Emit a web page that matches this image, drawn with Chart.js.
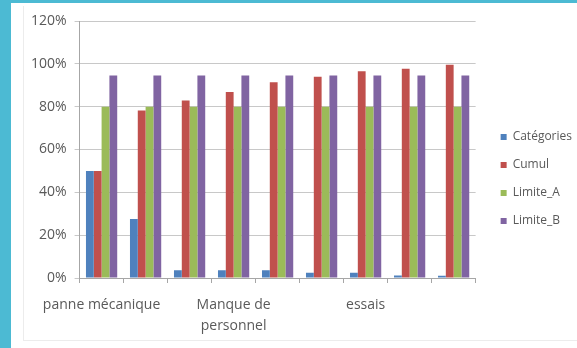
<!DOCTYPE html>
<html>
<head>
<meta charset="utf-8">
<script src="https://cdn.jsdelivr.net/npm/chart.js@4"></script>
<style>
  body { margin: 0; width: 577px; height: 348px; overflow: hidden; background: #fff; position: relative; }
  #teal-left { position: absolute; left: 0; top: 0; width: 11px; height: 348px; background: #4cbad3; }
  #teal-top { position: absolute; left: 0; top: 0; width: 577px; height: 3px; background: #4cbad3; }
  #frame { position: absolute; left: 23px; top: 6px; width: 600px; height: 334px; border-left: 1px solid #ececec; border-bottom: 1px solid #ececec; }
  #chart { position: absolute; left: 12px; top: 4px; }
</style>
</head>
<body>
<div id="frame"></div>
<div id="teal-top"></div>
<div id="teal-left"></div>
<canvas id="chart" width="561" height="345"></canvas>
<script>
// data (percent)
const categories = ["panne mécanique", "", "", ["Manque de", "personnel"], "", "", "essais", "", ""];
const categoriesPct = [50, 27.6, 3.6, 3.6, 3.6, 2.5, 2.5, 1.2, 1.0];
const cumul = [50, 78.2, 82.9, 86.8, 91.4, 94.0, 96.5, 97.7, 99.6];
const limiteA = [80, 80, 80, 80, 80, 80, 80, 80, 80];
const limiteB = [94.5, 94.5, 94.5, 94.5, 94.5, 94.5, 94.5, 94.5, 94.5];
const yTicks = [0, 20, 40, 60, 80, 100, 120];

Chart.defaults.font.family = "'Open Sans', sans-serif";
Chart.defaults.color = "#595959";

// push the legend a little away from the plot, like Excel does
const legendGap = {
  id: "legendGap",
  afterLayout(chart) {
    const lg = chart.legend;
    lg.left += 9;
    lg.right += 9;
    lg.top -= 6;
    lg.bottom -= 6;
  }
};

new Chart(document.getElementById("chart"), {
  type: "bar",
  data: {
    labels: categories,
    datasets: [
      { label: "Catégories", data: categoriesPct, backgroundColor: "#4f81bd" },
      { label: "Cumul", data: cumul, backgroundColor: "#c0504d" },
      { label: "Limite_A", data: limiteA, backgroundColor: "#9bbb59" },
      { label: "Limite_B", data: limiteB, backgroundColor: "#8064a2" }
    ]
  },
  options: {
    responsive: false,
    animation: false,
    devicePixelRatio: 1,
    layout: { padding: { left: 11, top: 17, bottom: 0, right: 0 } },
    datasets: { bar: { categoryPercentage: 0.71, barPercentage: 1 } },
    plugins: {
      tooltip: { enabled: false },
      legend: {
        position: "right",
        labels: {
          boxWidth: 6,
          boxHeight: 6,
          padding: 16,
          color: "#595959",
          font: { size: 12 }
        }
      }
    },
    scales: {
      x: {
        grid: { drawOnChartArea: false, drawTicks: true, tickLength: 5, color: "#a6a6a6" },
        border: { color: "#a6a6a6" },
        ticks: {
          autoSkip: false,
          maxRotation: 0,
          padding: 12,
          color: "#595959",
          font: { size: 14, lineHeight: 1.5 }
        }
      },
      y: {
        min: 0,
        max: 120,
        afterBuildTicks: (axis) => { axis.ticks = yTicks.map(v => ({ value: v })); },
        grid: { color: "#c8c8c8", tickLength: 5 },
        border: { color: "#a6a6a6" },
        ticks: {
          padding: 8,
          color: "#595959",
          font: { size: 14 },
          callback: (v) => v + "%"
        }
      }
    }
  },
  plugins: [legendGap]
});
</script>
</body>
</html>
